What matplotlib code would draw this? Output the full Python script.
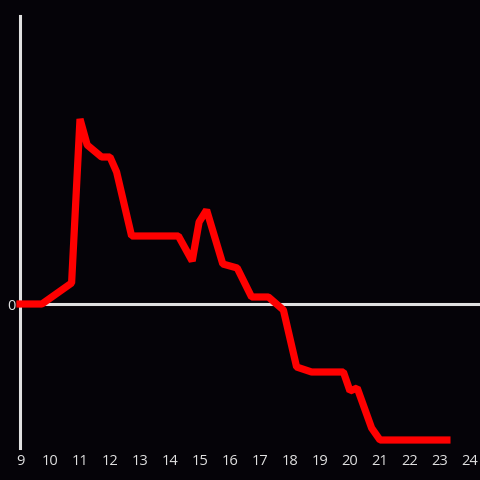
import matplotlib
matplotlib.use('Agg')
import matplotlib.pyplot as plt

# Hour of day and value (arbitrary units, 0 = baseline)
horas = [9.0, 9.73, 10.72, 11.0, 11.24, 11.72, 12.0, 12.22, 12.72, 14.28, 14.74,
         14.97, 15.22, 15.76, 16.24, 16.72, 17.28, 17.78, 18.22, 18.72, 19.78,
         20.0, 20.24, 20.72, 21.0, 23.23]
valores = [0, 0, 10.5, 92.5, 79.5, 73.5, 73.5, 66, 34, 34, 21.5,
           41, 47, 20, 18, 3.5, 3.5, -3, -31.5, -34, -34,
           -43.5, -42, -62, -68, -68]
xticks = list(range(9, 25))

bg = '#050308'
cinza = '#e0e0e0'

fig = plt.figure(figsize=(4.8, 4.8), dpi=100, facecolor=bg)
ax = fig.add_axes([20/480, 32/480, 460/480, 432/480])
ax.set_facecolor(bg)

ax.set_xlim(9, 9 + 460/30)
ax.set_ylim(-72, 144)

# linha do zero
ax.axhline(0, color=cinza, lw=2.2, zorder=2)

ax.plot(horas, valores, color='#ff0000', lw=5.2, solid_joinstyle='bevel',
        solid_capstyle='projecting', clip_on=False, zorder=3)

for s in ['top', 'right', 'bottom']:
    ax.spines[s].set_visible(False)
ax.spines['left'].set_color(cinza)
ax.spines['left'].set_linewidth(2.2)
ax.spines['left'].set_zorder(1)

ax.set_xticks(xticks)
ax.set_xticklabels([str(t) for t in xticks])
ax.set_yticks([0])
ax.set_yticklabels(['0'])
ax.tick_params(length=0, colors=cinza, labelsize=10.5)
ax.tick_params(axis='x', pad=4)
ax.tick_params(axis='y', pad=3)
for lb in ax.get_xticklabels() + ax.get_yticklabels():
    lb.set_fontfamily('Open Sans')

fig.savefig('out.png', dpi=100, facecolor=bg)
